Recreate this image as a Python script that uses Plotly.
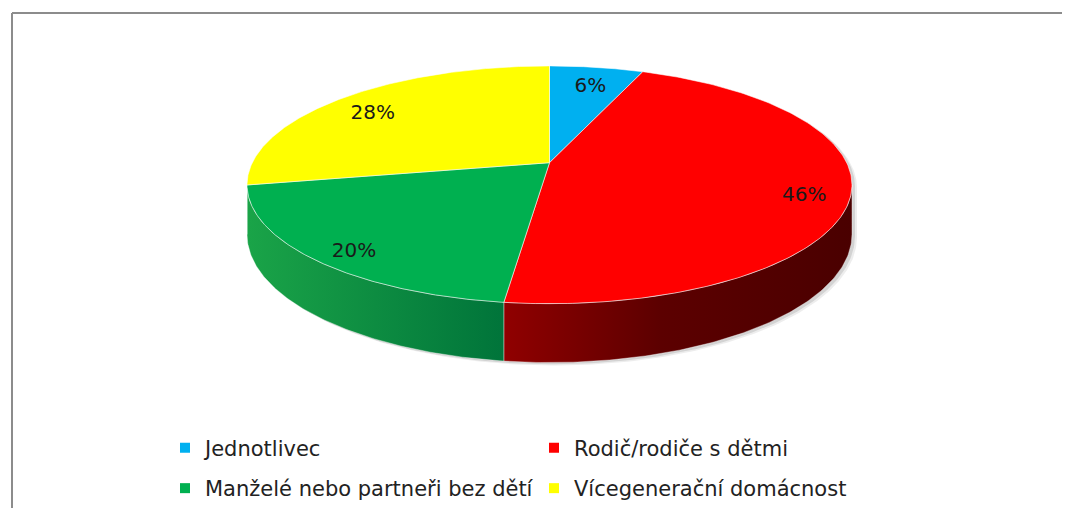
import numpy as np
import plotly.graph_objects as go

# ---- data ----
categories = ["Jednotlivec", "Rodič/rodiče s dětmi",
              "Manželé nebo partneři bez dětí", "Vícegenerační domácnost"]
shares = [6, 46, 20, 28]
label_texts = ["6%", "46%", "20%", "28%"]
top_colors = ["#00B0F0", "#FF0000", "#00B050", "#FFFF00"]
side_scales = [
    [[0, "#0088bb"], [1, "#005f85"]],
    [[0, "#900000"], [0.45, "#5c0000"], [1, "#4a0000"]],
    [[0, "#1aa448"], [1, "#00743a"]],
    [[0, "#c9c900"], [1, "#9a9a00"]],
]

# ---- page / geometry (screen pixels; page body has an 8px margin) ----
OFF = 8
FW, FH = 1062, 501
CX, CY = 549.5, 163.0
RX, RY = 297.2, 115.0
P = 0.186          # perspective factor
DEPTH = 48.0


def project(theta_deg, r=1.0, h=0.0):
    t = np.radians(np.asarray(theta_deg, dtype=float))
    u = r * np.sin(t)
    v = r * np.cos(t)
    s = 1.0 / (1.0 + P * v)
    return CX + RX * u * s, CY - RY * v * s + h * s


def px(x):
    return (x - OFF) / FW


def py(y):
    return 1 - (y - OFF) / FH


total = float(sum(shares))
cum = np.concatenate([[0.0], np.cumsum(shares)]) / total * 360.0
th_r = np.degrees(np.arccos(-P))
th_l = 360.0 - th_r

fig = go.Figure()

# shadow
back = np.linspace(th_l, 360 + th_r, 200)
front = np.linspace(th_r, th_l, 200)
bx, by = project(back)
fx, fy = project(front, h=DEPTH)
sx = np.concatenate([bx, fx])
sy = np.concatenate([by, fy])
for off, a in [(5, 0.07), (3, 0.11)]:
    fig.add_trace(go.Scatter(x=sx + off, y=sy + off * 0.6, mode="lines", fill="toself",
                             fillcolor=f"rgba(0,0,0,{a})", line=dict(width=0),
                             hoverinfo="skip", showlegend=False))

# side faces
for i in range(len(shares)):
    a, b = max(cum[i], th_r), min(cum[i + 1], th_l)
    if b <= a:
        continue
    th = np.linspace(a, b, 120)
    tx, ty = project(th)
    lx, ly = project(th[::-1], h=DEPTH)
    xs = np.concatenate([tx, lx, tx[:1]])
    ys = np.concatenate([ty, ly, ty[:1]])
    fig.add_trace(go.Scatter(x=xs, y=ys, mode="lines", fill="toself",
                             fillgradient=dict(type="horizontal", colorscale=side_scales[i]),
                             line=dict(width=1, color="rgba(255,255,255,0.35)"),
                             hoverinfo="skip", showlegend=False))

# top faces
for i in range(len(shares)):
    th = np.linspace(cum[i], cum[i + 1], 200)
    ax, ay = project(th)
    xs = np.concatenate([[CX], ax, [CX]])
    ys = np.concatenate([[CY], ay, [CY]])
    fig.add_trace(go.Scatter(x=xs, y=ys, mode="lines", fill="toself",
                             fillcolor=top_colors[i],
                             line=dict(width=1, color="rgba(255,255,255,0.55)"),
                             hoverinfo="skip", showlegend=False))

# data labels
mids = (cum[:-1] + cum[1:]) / 2
lx, ly = project(mids, r=0.85, h=DEPTH * 0.17)
fig.add_trace(go.Scatter(x=lx, y=ly, mode="text", text=label_texts,
                         textfont=dict(family="DejaVu Sans", size=20, color="#1a1a1a"),
                         hoverinfo="skip", showlegend=False))

# legend entries
legend_of = ["legend", "legend", "legend2", "legend2"]
for i, cat in enumerate(categories):
    fig.add_trace(go.Scatter(x=[None], y=[None], mode="markers", name=cat,
                             marker=dict(symbol="square", size=10, color=top_colors[i]),
                             legend=legend_of[i], showlegend=True))

leg_common = dict(orientation="h", xanchor="left", yanchor="middle",
                  entrywidth=324, font=dict(family="DejaVu Sans", size=21, color="#222222"),
                  bgcolor="rgba(0,0,0,0)", itemclick=False, itemdoubleclick=False)

fig.update_layout(
    width=FW, height=FH,
    margin=dict(l=0, r=0, t=0, b=0),
    paper_bgcolor="white", plot_bgcolor="white",
    xaxis=dict(range=[OFF, OFF + FW], visible=False, fixedrange=True),
    yaxis=dict(range=[OFF + FH, OFF], visible=False, fixedrange=True),
    legend=dict(x=px(165), y=py(448), **leg_common),
    legend2=dict(x=px(165), y=py(489), **leg_common),
    shapes=[
        dict(type="line", xref="paper", yref="paper", x0=px(12), x1=px(12), y0=0, y1=py(13),
             line=dict(color="#8c8c8c", width=2)),
        dict(type="line", xref="paper", yref="paper", x0=px(12), x1=1, y0=py(13), y1=py(13),
             line=dict(color="#8c8c8c", width=2)),
    ],
)

fig.write_html("out.html")
